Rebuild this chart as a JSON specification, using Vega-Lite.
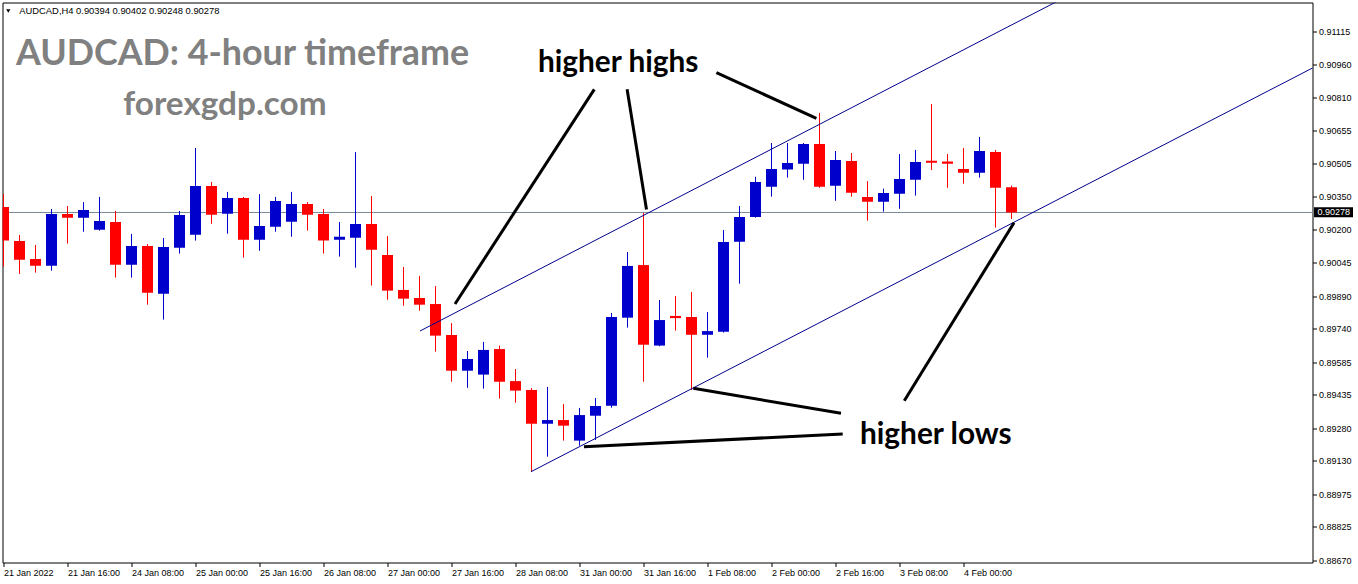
{
  "$schema": "https://vega.github.io/schema/vega-lite/v6.json",
  "width": 1310,
  "height": 560,
  "autosize": {"type": "none"},
  "padding": {"left": 2.5, "top": 2.5, "right": 45.5, "bottom": 21.5},
  "background": "white",
  "config": {
    "view": {"stroke": "black", "strokeWidth": 1},
    "axis": {"grid": false, "labelOverlap": false, "labelFlush": false},
    "scale": {"continuousPadding": 0}
  },
  "datasets": {
    "candles": [
      {"i":0,"open":0.90303,"high":0.90363,"low":0.90028,"close":0.90148},
      {"i":1,"open":0.90146,"high":0.90174,"low":0.89994,"close":0.90060},
      {"i":2,"open":0.90063,"high":0.90128,"low":0.90000,"close":0.90032},
      {"i":3,"open":0.90032,"high":0.90294,"low":0.90009,"close":0.90271},
      {"i":4,"open":0.90271,"high":0.90308,"low":0.90134,"close":0.90254},
      {"i":5,"open":0.90254,"high":0.90326,"low":0.90189,"close":0.90289},
      {"i":6,"open":0.90198,"high":0.90350,"low":0.90194,"close":0.90239},
      {"i":7,"open":0.90234,"high":0.90285,"low":0.89977,"close":0.90037},
      {"i":8,"open":0.90037,"high":0.90179,"low":0.89977,"close":0.90123},
      {"i":9,"open":0.90123,"high":0.90132,"low":0.89852,"close":0.89907},
      {"i":10,"open":0.89903,"high":0.90160,"low":0.89783,"close":0.90119},
      {"i":11,"open":0.90115,"high":0.90285,"low":0.90088,"close":0.90266},
      {"i":12,"open":0.90175,"high":0.90576,"low":0.90148,"close":0.90400},
      {"i":13,"open":0.90400,"high":0.90419,"low":0.90226,"close":0.90268},
      {"i":14,"open":0.90272,"high":0.90373,"low":0.90180,"close":0.90345},
      {"i":15,"open":0.90345,"high":0.90350,"low":0.90069,"close":0.90152},
      {"i":16,"open":0.90152,"high":0.90363,"low":0.90101,"close":0.90216},
      {"i":17,"open":0.90212,"high":0.90350,"low":0.90189,"close":0.90331},
      {"i":18,"open":0.90235,"high":0.90373,"low":0.90166,"close":0.90317},
      {"i":19,"open":0.90317,"high":0.90326,"low":0.90194,"close":0.90268},
      {"i":20,"open":0.90271,"high":0.90294,"low":0.90088,"close":0.90148},
      {"i":21,"open":0.90152,"high":0.90234,"low":0.90074,"close":0.90166},
      {"i":22,"open":0.90161,"high":0.90557,"low":0.90023,"close":0.90225},
      {"i":23,"open":0.90225,"high":0.90354,"low":0.89940,"close":0.90106},
      {"i":24,"open":0.90082,"high":0.90169,"low":0.89875,"close":0.89917},
      {"i":25,"open":0.89920,"high":0.90026,"low":0.89847,"close":0.89880},
      {"i":26,"open":0.89883,"high":0.89985,"low":0.89824,"close":0.89852},
      {"i":27,"open":0.89855,"high":0.89938,"low":0.89635,"close":0.89709},
      {"i":28,"open":0.89712,"high":0.89767,"low":0.89496,"close":0.89547},
      {"i":29,"open":0.89547,"high":0.89638,"low":0.89468,"close":0.89601},
      {"i":30,"open":0.89529,"high":0.89680,"low":0.89464,"close":0.89643},
      {"i":31,"open":0.89647,"high":0.89663,"low":0.89418,"close":0.89496},
      {"i":32,"open":0.89499,"high":0.89555,"low":0.89399,"close":0.89455},
      {"i":33,"open":0.89458,"high":0.89467,"low":0.89080,"close":0.89302},
      {"i":34,"open":0.89302,"high":0.89472,"low":0.89150,"close":0.89319},
      {"i":35,"open":0.89319,"high":0.89393,"low":0.89224,"close":0.89293},
      {"i":36,"open":0.89224,"high":0.89375,"low":0.89201,"close":0.89342},
      {"i":37,"open":0.89339,"high":0.89421,"low":0.89227,"close":0.89384},
      {"i":38,"open":0.89385,"high":0.89814,"low":0.89376,"close":0.89795},
      {"i":39,"open":0.89792,"high":0.90095,"low":0.89746,"close":0.90031},
      {"i":40,"open":0.90035,"high":0.90276,"low":0.89496,"close":0.89667},
      {"i":41,"open":0.89663,"high":0.89874,"low":0.89660,"close":0.89781},
      {"i":42,"open":0.89800,"high":0.89892,"low":0.89732,"close":0.89790},
      {"i":43,"open":0.89795,"high":0.89911,"low":0.89458,"close":0.89713},
      {"i":44,"open":0.89713,"high":0.89818,"low":0.89607,"close":0.89730},
      {"i":45,"open":0.89727,"high":0.90197,"low":0.89723,"close":0.90142},
      {"i":46,"open":0.90143,"high":0.90308,"low":0.89949,"close":0.90257},
      {"i":47,"open":0.90257,"high":0.90443,"low":0.90254,"close":0.90419},
      {"i":48,"open":0.90397,"high":0.90599,"low":0.90351,"close":0.90479},
      {"i":49,"open":0.90476,"high":0.90599,"low":0.90439,"close":0.90507},
      {"i":50,"open":0.90503,"high":0.90599,"low":0.90429,"close":0.90594},
      {"i":51,"open":0.90594,"high":0.90738,"low":0.90392,"close":0.90397},
      {"i":52,"open":0.90402,"high":0.90562,"low":0.90332,"close":0.90520},
      {"i":53,"open":0.90516,"high":0.90553,"low":0.90351,"close":0.90369},
      {"i":54,"open":0.90350,"high":0.90423,"low":0.90240,"close":0.90328},
      {"i":55,"open":0.90328,"high":0.90388,"low":0.90282,"close":0.90368},
      {"i":56,"open":0.90365,"high":0.90548,"low":0.90295,"close":0.90433},
      {"i":57,"open":0.90429,"high":0.90567,"low":0.90356,"close":0.90511},
      {"i":58,"open":0.90517,"high":0.90779,"low":0.90474,"close":0.90508},
      {"i":59,"open":0.90513,"high":0.90548,"low":0.90392,"close":0.90503},
      {"i":60,"open":0.90479,"high":0.90576,"low":0.90411,"close":0.90462},
      {"i":61,"open":0.90462,"high":0.90627,"low":0.90439,"close":0.90562},
      {"i":62,"open":0.90557,"high":0.90567,"low":0.90208,"close":0.90392},
      {"i":63,"open":0.90394,"high":0.90402,"low":0.90248,"close":0.90278}
    ],
    "channel": [
      {"line":"upper","i1":26.03,"p1":0.897304,"i2":68.53,"p2":0.913557},
      {"line":"lower","i1":32.97,"p1":0.890804,"i2":83.53,"p2":0.910110}
    ],
    "arrows": [
      {"to":"higher highs 1","i1":28.219,"p1":0.898551,"i2":36.925,"p2":0.908470},
      {"to":"higher highs 2","i1":38.975,"p1":0.908470,"i2":40.1875,"p2":0.902917},
      {"to":"higher highs 3","i1":44.556,"p1":0.909237,"i2":50.806,"p2":0.907131},
      {"to":"higher lows 1","i1":43.1125,"p1":0.894657,"i2":52.344,"p2":0.893502},
      {"to":"higher lows 2","i1":36.281,"p1":0.891959,"i2":52.45,"p2":0.892545},
      {"to":"higher lows 3","i1":56.3,"p1":0.894084,"i2":63.156,"p2":0.902307}
    ]
  },
  "layer": [
    {
      "data": {"values": [{"price": 0.90278}]},
      "mark": {"type": "rule", "color": "#778899", "strokeWidth": 1},
      "encoding": {
        "y": {
          "field": "price", "type": "quantitative",
          "scale": {"domain": [0.886609, 0.912481], "nice": false, "zero": false, "padding": 0},
          "axis": {
            "orient": "right",
            "values": [0.88670,0.88825,0.88975,0.89130,0.89280,0.89435,0.89585,0.89740,0.89890,0.90045,0.90200,0.90350,0.90505,0.90655,0.90810,0.90960,0.91115],
            "tickCount": 40,
            "format": ".5f",
            "labelFont": "Liberation Sans",
            "labelFontSize": 9,
            "labelColor": "black",
            "labelPadding": 2,
            "labelFlush": false,
            "labelOverlap": false,
            "tickColor": "black",
            "tickSize": 4,
            "domain": false,
            "grid": false,
            "title": null
          }
        }
      }
    },
    {
      "data": {"name": "candles"},
      "mark": {"type": "rule", "strokeWidth": 1, "clip": true},
      "encoding": {
        "x": {
          "field": "i", "type": "quantitative",
          "scale": {"domain": [-0.0625, 81.8125], "nice": false, "zero": false, "padding": 0},
          "axis": {
            "orient": "bottom",
            "values": [0,4,8,12,16,20,24,28,32,36,40,44,48,52,56,60],
            "tickCount": 40,
            "labelExpr": "['21 Jan 2022','21 Jan 16:00','24 Jan 08:00','25 Jan 00:00','25 Jan 16:00','26 Jan 08:00','27 Jan 00:00','27 Jan 16:00','28 Jan 08:00','31 Jan 00:00','31 Jan 16:00','1 Feb 08:00','2 Feb 00:00','2 Feb 16:00','3 Feb 08:00','4 Feb 00:00'][datum.value/4]",
            "labelAlign": "left",
            "labelBaseline": "top",
            "labelPadding": 2,
            "labelDx": 1,
            "labelFont": "Liberation Sans",
            "labelFontSize": 9,
            "labelColor": "black",
            "labelFlush": false,
            "labelOverlap": false,
            "tickColor": "black",
            "tickSize": 4,
            "domain": false,
            "grid": false,
            "title": null
          }
        },
        "y": {"field": "low", "type": "quantitative", "scale": {"domain": [0.886609, 0.912481], "nice": false, "zero": false, "padding": 0}, "title": null},
        "y2": {"field": "high"},
        "color": {"condition": {"test": "datum.close >= datum.open", "value": "#0000cd"}, "value": "#ff0000"}
      }
    },
    {
      "data": {"name": "candles"},
      "mark": {"type": "bar", "size": 11, "clip": true},
      "encoding": {
        "x": {"field": "i", "type": "quantitative", "scale": {"domain": [-0.0625, 81.8125], "nice": false, "zero": false, "padding": 0}, "title": null},
        "y": {"field": "open", "type": "quantitative", "scale": {"domain": [0.886609, 0.912481], "nice": false, "zero": false, "padding": 0}, "title": null},
        "y2": {"field": "close"},
        "color": {"condition": {"test": "datum.close >= datum.open", "value": "#0000cd"}, "value": "#ff0000"}
      }
    },
    {
      "data": {"name": "channel"},
      "mark": {"type": "rule", "color": "#00008b", "strokeWidth": 1, "clip": true},
      "encoding": {
        "x": {"field": "i1", "type": "quantitative", "scale": {"domain": [-0.0625, 81.8125], "nice": false, "zero": false, "padding": 0}, "title": null},
        "x2": {"field": "i2"},
        "y": {"field": "p1", "type": "quantitative", "scale": {"domain": [0.886609, 0.912481], "nice": false, "zero": false, "padding": 0}, "title": null},
        "y2": {"field": "p2"}
      }
    },
    {
      "data": {"name": "arrows"},
      "mark": {"type": "rule", "color": "black", "strokeWidth": 3, "clip": true},
      "encoding": {
        "x": {"field": "i1", "type": "quantitative", "scale": {"domain": [-0.0625, 81.8125], "nice": false, "zero": false, "padding": 0}, "title": null},
        "x2": {"field": "i2"},
        "y": {"field": "p1", "type": "quantitative", "scale": {"domain": [0.886609, 0.912481], "nice": false, "zero": false, "padding": 0}, "title": null},
        "y2": {"field": "p2"}
      }
    },
    {
      "data": {"values": [
        {"i": 0.78125, "price": 0.909593, "label": "AUDCAD: 4-hour timeframe"}
      ]},
      "mark": {"type": "text", "font": "Lato", "fontWeight": "bold", "fontSize": 35.8, "color": "#808080", "align": "left", "baseline": "alphabetic"},
      "encoding": {
        "x": {"field": "i", "type": "quantitative", "scale": {"domain": [-0.0625, 81.8125], "nice": false, "zero": false, "padding": 0}, "title": null},
        "y": {"field": "price", "type": "quantitative", "scale": {"domain": [0.886609, 0.912481], "nice": false, "zero": false, "padding": 0}, "title": null},
        "text": {"field": "label"}
      }
    },
    {
      "data": {"values": [
        {"i": 7.4875, "price": 0.907283, "label": "forexgdp.com"}
      ]},
      "mark": {"type": "text", "font": "Lato", "fontWeight": "bold", "fontSize": 33.3, "color": "#808080", "align": "left", "baseline": "alphabetic"},
      "encoding": {
        "x": {"field": "i", "type": "quantitative", "scale": {"domain": [-0.0625, 81.8125], "nice": false, "zero": false, "padding": 0}, "title": null},
        "y": {"field": "price", "type": "quantitative", "scale": {"domain": [0.886609, 0.912481], "nice": false, "zero": false, "padding": 0}, "title": null},
        "text": {"field": "label"}
      }
    },
    {
      "data": {"values": [
        {"i": 33.4, "price": 0.909256, "label": "higher highs"},
        {"i": 53.53, "price": 0.892083, "label": "higher lows"}
      ]},
      "mark": {"type": "text", "font": "Lato", "fontWeight": "bold", "fontSize": 29.8, "color": "black", "align": "left", "baseline": "alphabetic"},
      "encoding": {
        "x": {"field": "i", "type": "quantitative", "scale": {"domain": [-0.0625, 81.8125], "nice": false, "zero": false, "padding": 0}, "title": null},
        "y": {"field": "price", "type": "quantitative", "scale": {"domain": [0.886609, 0.912481], "nice": false, "zero": false, "padding": 0}, "title": null},
        "text": {"field": "label"}
      }
    },
    {
      "data": {"values": [{"i": 0.9875, "price": 0.911949, "label": "AUDCAD,H4  0.90394 0.90402 0.90248 0.90278"}]},
      "mark": {"type": "text", "font": "Liberation Sans", "fontSize": 9.4, "color": "black", "align": "left", "baseline": "alphabetic"},
      "encoding": {
        "x": {"field": "i", "type": "quantitative", "scale": {"domain": [-0.0625, 81.8125], "nice": false, "zero": false, "padding": 0}, "title": null},
        "y": {"field": "price", "type": "quantitative", "scale": {"domain": [0.886609, 0.912481], "nice": false, "zero": false, "padding": 0}, "title": null},
        "text": {"field": "label"}
      }
    },
    {
      "data": {"values": [{"i": 0.3, "price": 0.912088}]},
      "mark": {"type": "point", "shape": "triangle-down", "filled": true, "size": 18, "color": "black", "opacity": 1},
      "encoding": {
        "x": {"field": "i", "type": "quantitative", "scale": {"domain": [-0.0625, 81.8125], "nice": false, "zero": false, "padding": 0}, "title": null},
        "y": {"field": "price", "type": "quantitative", "scale": {"domain": [0.886609, 0.912481], "nice": false, "zero": false, "padding": 0}, "title": null}
      }
    },
    {
      "data": {"values": [{"i1": 81.90625, "i2": 84.34375, "p1": 0.90302, "p2": 0.90256}]},
      "mark": {"type": "rect", "color": "black", "clip": false},
      "encoding": {
        "x": {"field": "i1", "type": "quantitative", "scale": {"domain": [-0.0625, 81.8125], "nice": false, "zero": false, "padding": 0}, "title": null},
        "x2": {"field": "i2"},
        "y": {"field": "p1", "type": "quantitative", "scale": {"domain": [0.886609, 0.912481], "nice": false, "zero": false, "padding": 0}, "title": null},
        "y2": {"field": "p2"}
      }
    },
    {
      "data": {"values": [{"i": 82.125, "price": 0.90278, "label": "0.90278"}]},
      "mark": {"type": "text", "font": "Liberation Sans", "fontSize": 9, "color": "white", "align": "left", "baseline": "middle", "clip": false},
      "encoding": {
        "x": {"field": "i", "type": "quantitative", "scale": {"domain": [-0.0625, 81.8125], "nice": false, "zero": false, "padding": 0}, "title": null},
        "y": {"field": "price", "type": "quantitative", "scale": {"domain": [0.886609, 0.912481], "nice": false, "zero": false, "padding": 0}, "title": null},
        "text": {"field": "label"}
      }
    }
  ]
}
